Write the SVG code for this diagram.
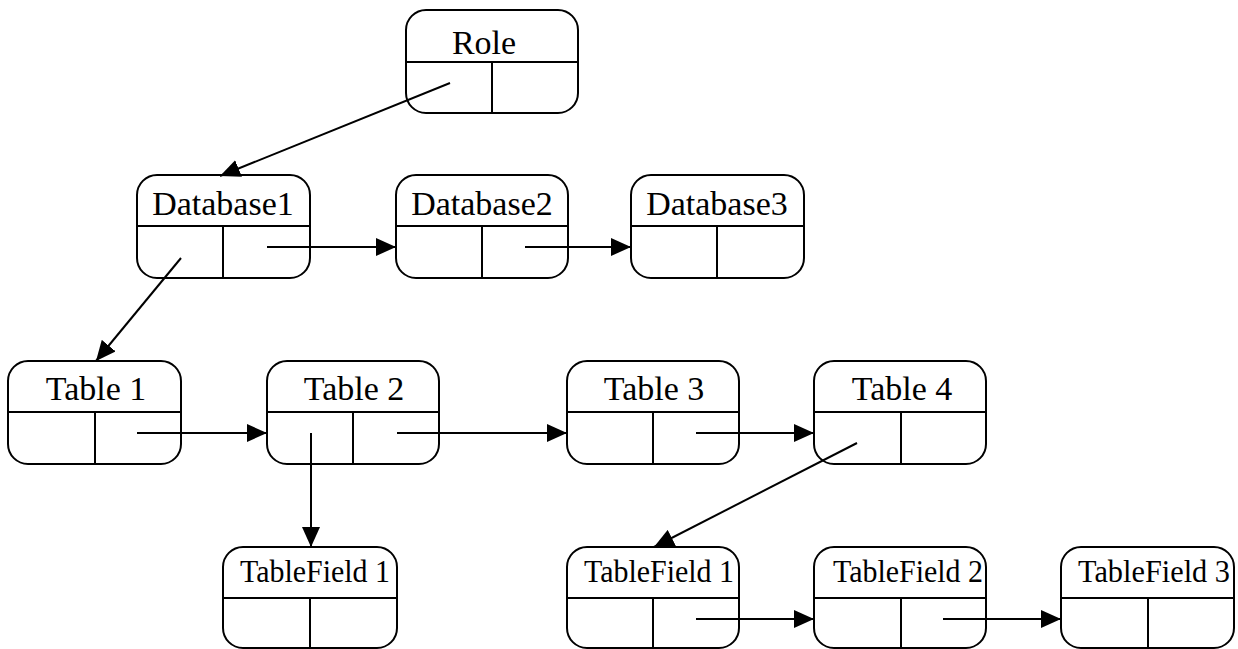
<svg xmlns="http://www.w3.org/2000/svg" width="1238" height="649" viewBox="0 0 1238 649">
  <style>
    .box { fill: #ffffff; stroke: #000000; stroke-width: 2; }
    .div { stroke: #000000; stroke-width: 2; fill: none; }
    .lbl { font-family: 'Liberation Serif', 'DejaVu Serif', serif; font-size: 34px; fill: #000000; text-anchor: middle; }
    .lbl-sm { font-family: 'Liberation Serif', 'DejaVu Serif', serif; font-size: 32px; fill: #000000; text-anchor: middle; }
    .edge { stroke: #000000; stroke-width: 2; fill: none; marker-end: url(#arrow); }
  </style>
  <defs>
    <marker id="arrow" viewBox="0 0 20 18" refX="20" refY="9" markerWidth="20" markerHeight="18" markerUnits="userSpaceOnUse" orient="auto">
      <path d="M0,0 L20,9 L0,18 Z" fill="#000000"/>
    </marker>
  </defs>
  <rect width="1238" height="649" fill="#ffffff"/>

  <!-- Role -->
  <g id="role">
    <rect class="box" x="406" y="10" width="172" height="103" rx="20"/>
    <line class="div" x1="406" y1="62" x2="578" y2="62"/>
    <line class="div" x1="492" y1="62" x2="492" y2="113"/>
    <text class="lbl" x="484" y="54">Role</text>
  </g>

  <!-- Databases -->
  <g id="database1">
    <rect class="box" x="137" y="175" width="173" height="103" rx="20"/>
    <line class="div" x1="137" y1="226" x2="310" y2="226"/>
    <line class="div" x1="223" y1="226" x2="223" y2="278"/>
    <text class="lbl" x="223" y="215">Database1</text>
  </g>
  <g id="database2">
    <rect class="box" x="396" y="175" width="172" height="103" rx="20"/>
    <line class="div" x1="396" y1="226" x2="568" y2="226"/>
    <line class="div" x1="482" y1="226" x2="482" y2="278"/>
    <text class="lbl" x="482" y="215">Database2</text>
  </g>
  <g id="database3">
    <rect class="box" x="631" y="175" width="173" height="103" rx="20"/>
    <line class="div" x1="631" y1="226" x2="804" y2="226"/>
    <line class="div" x1="717" y1="226" x2="717" y2="278"/>
    <text class="lbl" x="717" y="215">Database3</text>
  </g>

  <!-- Tables -->
  <g id="table1">
    <rect class="box" x="8" y="361" width="173" height="103" rx="20"/>
    <line class="div" x1="8" y1="412" x2="181" y2="412"/>
    <line class="div" x1="95" y1="412" x2="95" y2="464"/>
    <text class="lbl" x="96" y="400">Table 1</text>
  </g>
  <g id="table2">
    <rect class="box" x="267" y="361" width="172" height="103" rx="20"/>
    <line class="div" x1="267" y1="412" x2="439" y2="412"/>
    <line class="div" x1="353" y1="412" x2="353" y2="464"/>
    <text class="lbl" x="354" y="400">Table 2</text>
  </g>
  <g id="table3">
    <rect class="box" x="567" y="361" width="172" height="103" rx="20"/>
    <line class="div" x1="567" y1="412" x2="739" y2="412"/>
    <line class="div" x1="653" y1="412" x2="653" y2="464"/>
    <text class="lbl" x="654" y="400">Table 3</text>
  </g>
  <g id="table4">
    <rect class="box" x="814" y="361" width="172" height="103" rx="20"/>
    <line class="div" x1="814" y1="412" x2="986" y2="412"/>
    <line class="div" x1="901" y1="412" x2="901" y2="464"/>
    <text class="lbl" x="902" y="400">Table 4</text>
  </g>

  <!-- Table fields -->
  <g id="tablefield1-a">
    <rect class="box" x="223" y="547" width="174" height="101" rx="20"/>
    <line class="div" x1="223" y1="598" x2="397" y2="598"/>
    <line class="div" x1="310" y1="598" x2="310" y2="648"/>
    <text class="lbl-sm" x="315" y="582" textLength="150" lengthAdjust="spacingAndGlyphs">TableField 1</text>
  </g>
  <g id="tablefield1-b">
    <rect class="box" x="567" y="547" width="172" height="101" rx="20"/>
    <line class="div" x1="567" y1="598" x2="739" y2="598"/>
    <line class="div" x1="653" y1="598" x2="653" y2="648"/>
    <text class="lbl-sm" x="659" y="582" textLength="150" lengthAdjust="spacingAndGlyphs">TableField 1</text>
  </g>
  <g id="tablefield2">
    <rect class="box" x="814" y="547" width="172" height="101" rx="20"/>
    <line class="div" x1="814" y1="598" x2="986" y2="598"/>
    <line class="div" x1="901" y1="598" x2="901" y2="648"/>
    <text class="lbl-sm" x="908" y="582" textLength="150" lengthAdjust="spacingAndGlyphs">TableField 2</text>
  </g>
  <g id="tablefield3">
    <rect class="box" x="1061" y="547" width="173" height="101" rx="20"/>
    <line class="div" x1="1061" y1="598" x2="1234" y2="598"/>
    <line class="div" x1="1148" y1="598" x2="1148" y2="648"/>
    <text class="lbl-sm" x="1154" y="582" textLength="152" lengthAdjust="spacingAndGlyphs">TableField 3</text>
  </g>

  <!-- Connectors -->
  <g id="connectors">
    <line class="edge" x1="450" y1="83" x2="220" y2="176"/>
    <line class="edge" x1="267" y1="247" x2="396" y2="247"/>
    <line class="edge" x1="525" y1="247" x2="631" y2="247"/>
    <line class="edge" x1="181" y1="258" x2="96" y2="361"/>
    <line class="edge" x1="137" y1="433" x2="267" y2="433"/>
    <line class="edge" x1="397" y1="433" x2="567" y2="433"/>
    <line class="edge" x1="696" y1="433" x2="814" y2="433"/>
    <line class="edge" x1="311" y1="433" x2="311" y2="547"/>
    <line class="edge" x1="857" y1="443" x2="654" y2="547"/>
    <line class="edge" x1="696" y1="619" x2="814" y2="619"/>
    <line class="edge" x1="943" y1="619" x2="1061" y2="619"/>
  </g>
</svg>
